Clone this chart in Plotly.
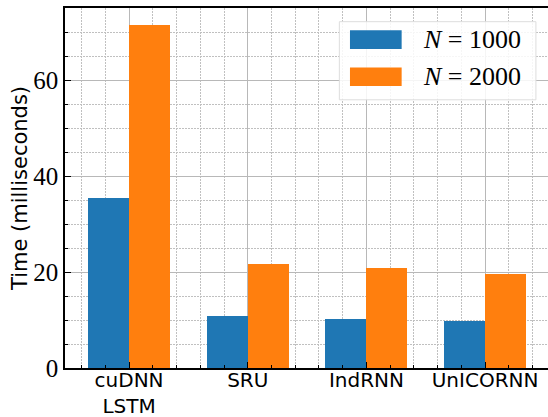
import plotly.graph_objects as go

categories = ["cuDNN<br>LSTM", "SRU", "IndRNN", "UnICORNN"]
n1000 = [35.4, 10.8, 10.2, 9.8]
n2000 = [71.5, 21.7, 20.8, 19.6]
series_names = ["<i>N</i> = 1000", "<i>N</i> = 2000"]
colors = ["#1f77b4", "#ff7f0e"]
yticks = [0, 20, 40, 60]

xpos = list(range(len(categories)))
w = 0.345

fig = go.Figure()
fig.add_trace(go.Bar(x=[p - w / 2 for p in xpos], y=n1000, width=w, marker=dict(color=colors[0], line=dict(width=0)), name=series_names[0], showlegend=False))
fig.add_trace(go.Bar(x=[p + w / 2 for p in xpos], y=n2000, width=w, marker=dict(color=colors[1], line=dict(width=0)), name=series_names[1], showlegend=False))

# custom legend (large patches like matplotlib)
fig.add_shape(type="rect", xref="paper", yref="paper", x0=0.568, x1=0.975, y0=0.745, y1=0.962,
              line=dict(color="#dddddd", width=1), fillcolor="rgba(255,255,255,0.85)", layer="above")
for i, (name, c) in enumerate(zip(series_names, colors)):
    yc = 0.912 - i * 0.103
    fig.add_shape(type="rect", xref="paper", yref="paper", x0=0.590, x1=0.697, y0=yc - 0.026, y1=yc + 0.026,
                  line=dict(width=0), fillcolor=c, layer="above")
    fig.add_annotation(xref="paper", yref="paper", x=0.738, y=yc, text=name, showarrow=False,
                       xanchor="left", yanchor="middle", font=dict(family="Liberation Serif", size=26, color="black"))

fig.update_layout(
    width=548, height=417,
    margin=dict(l=65, r=0, t=8, b=49, autoexpand=False),
    plot_bgcolor="white", paper_bgcolor="white",
    barmode="overlay", bargap=0,
)
fig.update_xaxes(
    automargin=False,
    range=[-0.54, 3.53], tickvals=xpos, ticktext=categories,
    tickfont=dict(family="DejaVu Sans", size=20, color="black"),
    ticklabelstandoff=-7,
    showline=True, linecolor="black", linewidth=1.5, mirror=True,
    showgrid=True, gridcolor="#b8b8b8", gridwidth=1.3,
    ticks="inside", ticklen=6, tickcolor="black",
    minor=dict(dtick=0.2, tick0=0, showgrid=True, gridcolor="#c0c0c0", griddash="2px,1px", gridwidth=1,
               ticks="inside", ticklen=3, tickcolor="black"),
    zeroline=False,
)
fig.update_yaxes(
    automargin=False,
    range=[0, 75], tickvals=yticks,
    tickfont=dict(family="Liberation Serif", size=25, color="black"),
    title=dict(text="Time (milliseconds)", font=dict(family="DejaVu Sans", size=21, color="black"), standoff=0),
    showline=True, linecolor="black", linewidth=1.5, mirror=False,
    showgrid=True, gridcolor="#b8b8b8", gridwidth=1.3,
    ticks="inside", ticklen=6, tickcolor="black",
    minor=dict(dtick=5, tick0=0, showgrid=True, gridcolor="#c0c0c0", griddash="2px,1px", gridwidth=1,
               ticks="inside", ticklen=3, tickcolor="black"),
    zeroline=False,
)
fig.write_html("out.html", config={"displayModeBar": False},
               post_script="document.body.style.margin='0';")
